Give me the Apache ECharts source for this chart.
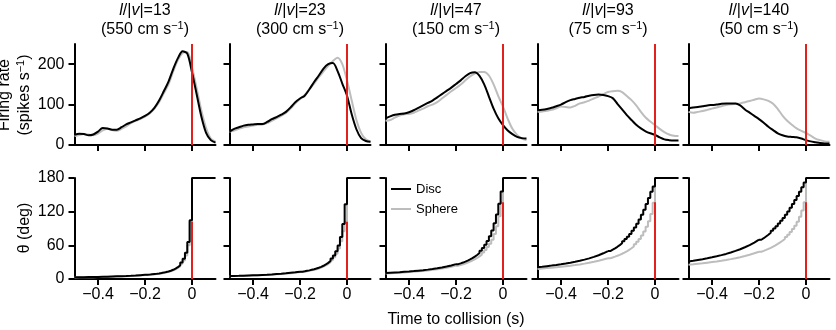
<!DOCTYPE html>
<html>
<head>
<meta charset="utf-8">
<script src="https://cdn.jsdelivr.net/npm/echarts@6/dist/echarts.min.js"></script>
<style>
html, body { margin: 0; padding: 0; background: #fff; }
#main { width: 836px; height: 330px; }
</style>
</head>
<body>
<div id="main"></div>
<script>
// panel labels
var lvRatio = [13, 23, 47, 93, 140];
var speeds = [550, 300, 150, 75, 50];

// tick labels
var xTicks = [-0.4, -0.2, 0];
var rateTicks = [0, 100, 200];
var thetaTicks = [0, 60, 120, 180];

// firing rate (spikes/s), sampled every 20 ms
var rateTime = [-0.5, -0.48, -0.46, -0.44, -0.42, -0.4, -0.38, -0.36, -0.34, -0.32, -0.3, -0.28, -0.26, -0.24, -0.22,
  -0.2, -0.18, -0.16, -0.14, -0.12, -0.1, -0.08, -0.06, -0.04, -0.02, 0, 0.02, 0.04, 0.06, 0.08, 0.1];

var discRate13 = [25, 28, 27, 24, 26, 33, 42, 41, 38, 38, 44, 51, 56, 61, 66, 72, 80, 92, 110, 133, 157, 188, 215, 232, 226, 180, 125, 70, 30, 12, 6];
var sphereRate13 = [22, 25, 27, 26, 24, 28, 36, 40, 37, 35, 40, 46, 54, 60, 64, 70, 78, 90, 106, 128, 150, 182, 210, 228, 230, 192, 140, 85, 42, 16, 8];
var discRate23 = [33, 40, 44, 48, 50, 51, 52, 52, 57, 64, 69, 75, 82, 93, 106, 115, 122, 138, 156, 172, 189, 200, 203, 183, 152, 122, 76, 39, 17, 10, 8];
var sphereRate23 = [33, 36, 40, 44, 46, 48, 50, 51, 54, 60, 66, 72, 79, 90, 103, 114, 124, 138, 152, 168, 182, 196, 208, 216, 200, 160, 110, 62, 30, 14, 8];
var discRate47 = [66, 71, 75, 77, 78, 81, 86, 92, 98, 104, 110, 118, 126, 134, 142, 151, 160, 170, 178, 180, 171, 150, 120, 90, 66, 49, 36, 27, 20, 17, 16];
var sphereRate47 = [60, 62, 68, 73, 76, 77, 80, 85, 90, 96, 100, 106, 115, 124, 133, 141, 150, 160, 170, 177, 181, 181, 172, 150, 121, 95, 65, 40, 25, 16, 12];
var discRate93 = [86, 87, 89, 92, 96, 100, 106, 111, 114, 117, 119, 122, 124, 125, 124, 121, 116, 102, 88, 74, 62, 50, 41, 34, 29, 25, 19, 14, 12, 11, 11];
var sphereRate93 = [82, 83, 85, 87, 91, 95, 94, 93, 97, 103, 106, 110, 115, 120, 126, 131, 133, 134, 131, 121, 111, 98, 82, 68, 58, 49, 40, 32, 26, 23, 22];
var discRate140 = [91, 93, 94, 96, 98, 99, 100, 102, 103, 103, 103, 98, 88, 80, 72, 64, 55, 45, 37, 29, 24, 21, 20, 19, 16, 12, 9, 7, 5, 4, 4];
var sphereRate140 = [82, 80, 82, 84, 87, 90, 93, 96, 99, 101, 102, 103, 106, 109, 112, 115, 113, 109, 102, 89, 73, 60, 50, 41, 35, 30, 23, 16, 12, 9, 8];

// angular size theta (deg); from -0.2 s on the stimulus is held between frames
var thetaTime = [-0.5, -0.48, -0.46, -0.44, -0.42, -0.4, -0.38, -0.36, -0.34, -0.32, -0.3, -0.28, -0.26, -0.24, -0.22,
  -0.2, -0.19, -0.18, -0.17, -0.16, -0.15, -0.14, -0.13, -0.12, -0.11, -0.1, -0.09, -0.08, -0.07, -0.06,
  -0.05, -0.04, -0.03, -0.02, -0.01, 0, 0.1];

var discTheta13 = [3.0, 3.1, 3.2, 3.4, 3.5, 3.7, 3.9, 4.1, 4.4, 4.7, 5.0, 5.3, 5.7, 6.2, 6.8,
  7.4, 7.8, 8.3, 8.8, 9.3, 9.9, 10.6, 11.4, 12.4, 13.5, 14.8, 16.4, 18.5, 21.0, 24.5,
  29.2, 36.1, 46.9, 66.1, 104.9, 180, 180];
var sphereTheta13 = [2.8, 2.9, 3.0, 3.2, 3.3, 3.5, 3.7, 3.9, 4.1, 4.4, 4.7, 5.0, 5.4, 5.8, 6.4,
  7.0, 7.4, 7.8, 8.2, 8.7, 9.3, 10.0, 10.7, 11.6, 12.7, 13.9, 15.4, 17.3, 19.7, 22.9,
  27, 33, 42, 60, 102, 180, 180];
var discTheta23 = [5.3, 5.5, 5.7, 6.0, 6.3, 6.6, 6.9, 7.3, 7.7, 8.2, 8.8, 9.4, 10.1, 11.0, 11.9,
  13.1, 13.8, 14.6, 15.4, 16.4, 17.4, 18.7, 20.1, 21.7, 23.6, 25.9, 28.7, 32.1, 36.4, 42.0,
  49.4, 59.9, 75.0, 98.0, 133.0, 180, 180];
var sphereTheta23 = [5.0, 5.2, 5.4, 5.7, 6.0, 6.3, 6.6, 7.0, 7.4, 7.8, 8.3, 8.9, 9.6, 10.4, 11.3,
  12.4, 13.0, 13.7, 14.5, 15.4, 16.4, 17.5, 18.8, 20.3, 22.1, 24.2, 26.7, 29.8, 33.6, 38.6,
  45.2, 54.5, 67.5, 85, 102, 180, 180];
var discTheta47 = [10.7, 11.2, 11.7, 12.2, 12.8, 13.4, 14.1, 14.9, 15.7, 16.7, 17.8, 19.1, 20.5, 22.2, 24.1,
  26.5, 27.8, 29.3, 30.9, 32.7, 34.8, 37.1, 39.8, 42.8, 46.3, 50.4, 55.2, 60.9, 67.8, 76.1,
  86.5, 99.2, 114.9, 133.9, 156.0, 180, 180];
var sphereTheta47 = [10.0, 10.4, 10.8, 11.3, 11.8, 12.4, 13.0, 13.7, 14.4, 15.3, 16.3, 17.4, 18.6, 20.1, 21.8,
  23.8, 25.0, 26.3, 27.7, 29.3, 31.0, 33.0, 35.2, 37.5, 40.3, 43.5, 47.3, 51.8, 57.0, 63.0,
  70.0, 80.0, 94.0, 112.0, 137.0, 180, 180];
var discTheta93 = [21.1, 21.9, 22.9, 23.9, 25.0, 26.2, 27.5, 29.0, 30.6, 32.4, 34.5, 36.8, 39.4, 42.4, 45.8,
  49.8, 52.2, 54.7, 57.4, 60.4, 63.6, 67.2, 71.1, 75.5, 80.4, 85.8, 91.9, 98.6, 106.1, 114.4,
  123.5, 133.5, 144.3, 155.7, 165.0, 180, 180];
var sphereTheta93 = [18.0, 18.7, 19.4, 20.1, 20.9, 21.7, 22.7, 23.7, 24.8, 26.0, 27.4, 28.9, 30.6, 32.4, 34.6,
  37.0, 38.4, 39.8, 41.4, 43.1, 45.0, 47.0, 49.3, 51.8, 54.8, 58.0, 62.0, 66.5, 71.5, 77.5,
  84.5, 93.0, 103.0, 116.0, 136.0, 180, 180];
var discTheta140 = [31.3, 32.5, 33.9, 35.3, 36.9, 38.6, 40.4, 42.5, 44.7, 47.3, 50.1, 53.1, 56.6, 60.5, 65.0,
  70.0, 72.7, 75.8, 78.9, 82.4, 86.0, 90.0, 94.2, 98.8, 103.7, 108.9, 114.6, 120.5, 126.9, 133.6,
  140.7, 148.1, 155.7, 163.7, 171.8, 180, 180];
var sphereTheta140 = [25.3, 26.1, 27.0, 27.9, 29.0, 30.1, 31.2, 32.5, 33.9, 35.4, 37.1, 38.9, 41.0, 43.2, 45.8,
  48.6, 50.2, 51.9, 53.7, 55.6, 57.7, 60.0, 62.5, 65.2, 68.1, 71.4, 75.0, 79.0, 83.6, 88.9,
  94.9, 102.1, 110.9, 122.1, 137.0, 180, 180];

// height of the red collision marker in the theta panels (deg)
var markerTheta = [102, 102, 137, 137, 137];

var discRate = [discRate13, discRate23, discRate47, discRate93, discRate140];
var sphereRate = [sphereRate13, sphereRate23, sphereRate47, sphereRate93, sphereRate140];
var discTheta = [discTheta13, discTheta23, discTheta47, discTheta93, discTheta140];
var sphereTheta = [sphereTheta13, sphereTheta23, sphereTheta47, sphereTheta93, sphereTheta140];

var FONT = 'Liberation Sans, Arial, Helvetica, sans-serif';
var BLACK = '#000';
var GREY = '#bdbdbd';
var RED = '#e3211c';

var panelLeft = [74.5, 229.5, 385.5, 537.5, 688.5];
var panelW = 141;
var rowTop = [44, 178];
var rowH = 101;
var stepFrom = 15; // index of -0.2 s in thetaTime

function pairs(xs, ys) {
  return xs.map(function (x, i) { return [x, ys[i]]; });
}
function minus(v) {
  return v === 0 ? '0' : String(v).replace('-', '\u2212');
}
function lineSeries(name, g, color, data, extra) {
  var s = {
    name: name, type: 'line', xAxisIndex: g, yAxisIndex: g, color: color,
    data: data, showSymbol: false, symbol: 'none',
    lineStyle: { width: 2, color: color }, z: name === 'Disc' ? 3 : 2
  };
  for (var k in extra) s[k] = extra[k];
  return s;
}

var myChart = echarts.init(document.getElementById('main'), null, { renderer: 'canvas' });

var grids = [], xAxes = [], yAxes = [], series = [], graphics = [];

for (var row = 0; row < 2; row++) {
  for (var p = 0; p < 5; p++) {
    var g = row * 5 + p;
    grids.push({ left: panelLeft[p], top: rowTop[row], width: panelW, height: rowH, outerBoundsMode: 'none', containLabel: false });
    xAxes.push({
      type: 'value', gridIndex: g, min: -0.5, max: 0.1,
      axisLine: { show: true, onZero: false, lineStyle: { color: BLACK, width: 2 } },
      axisTick: { show: true, inside: false, length: 6, customValues: xTicks, lineStyle: { color: BLACK, width: 2 } },
      axisLabel: { show: row === 1, customValues: xTicks, formatter: minus, color: BLACK, fontSize: 16, fontFamily: FONT, margin: 8 },
      splitLine: { show: false }
    });
    var ticks = row === 0 ? rateTicks : thetaTicks;
    yAxes.push({
      type: 'value', gridIndex: g, min: 0, max: row === 0 ? 250 : 180,
      axisLine: { show: true, onZero: false, lineStyle: { color: BLACK, width: 2 } },
      axisTick: { show: true, inside: false, length: 6, customValues: ticks, lineStyle: { color: BLACK, width: 2 } },
      axisLabel: { show: p === 0, customValues: ticks, color: BLACK, fontSize: 16, fontFamily: FONT, margin: 10 },
      splitLine: { show: false }
    });

    if (row === 0) {
      series.push(lineSeries('Sphere', g, GREY, pairs(rateTime, sphereRate[p]), { smooth: 0.3 }));
      series.push(lineSeries('Disc', g, BLACK, pairs(rateTime, discRate[p]), { smooth: 0.3 }));
      series.push(lineSeries('collision', g, RED, [[0, 0], [0, 250]], { z: 4, silent: true }));
    } else {
      var sph = pairs(thetaTime, sphereTheta[p]);
      var dsc = pairs(thetaTime, discTheta[p]);
      series.push(lineSeries('Sphere', g, GREY, sph.slice(0, stepFrom + 1), {}));
      series.push(lineSeries('Sphere', g, GREY, sph.slice(stepFrom), { step: 'end' }));
      series.push(lineSeries('Disc', g, BLACK, dsc.slice(0, stepFrom + 1), {}));
      series.push(lineSeries('Disc', g, BLACK, dsc.slice(stepFrom), { step: 'end' }));
      series.push(lineSeries('collision', g, RED, [[0, 0], [0, markerTheta[p]]], { z: 4, silent: true }));
    }
  }
}

// column titles
for (var c = 0; c < 5; c++) {
  graphics.push({
    type: 'text', x: panelLeft[c] + panelW / 2, y: 1,
    style: {
      text: '{i|l}/|{i|v}|=' + lvRatio[c] + '\n(' + speeds[c] + ' cm s{sup|\u22121})',
      font: '16px ' + FONT, fill: BLACK, align: 'center', verticalAlign: 'top', lineHeight: 19,
      rich: {
        i: { fontStyle: 'italic', fontSize: 16, fontFamily: FONT, lineHeight: 19 },
        sup: { fontSize: 11, fontFamily: FONT, verticalAlign: 'top', lineHeight: 13 }
      }
    }
  });
}

// axis names
graphics.push({
  type: 'text', x: 5, y: 95, rotation: Math.PI / 2,
  style: { text: 'Firing rate', font: '16px ' + FONT, fill: BLACK, align: 'center', verticalAlign: 'middle' }
});
graphics.push({
  type: 'text', x: 25, y: 95, rotation: Math.PI / 2,
  style: {
    text: '(spikes s{sup|\u22121})', font: '16px ' + FONT, fill: BLACK, align: 'center', verticalAlign: 'middle', lineHeight: 19,
    rich: { sup: { fontSize: 11, fontFamily: FONT, verticalAlign: 'top', lineHeight: 13 } }
  }
});
graphics.push({
  type: 'text', x: 25, y: 228, rotation: Math.PI / 2,
  style: { text: '\u03b8 (deg)', font: '16px ' + FONT, fill: BLACK, align: 'center', verticalAlign: 'middle' }
});
graphics.push({
  type: 'text', x: panelLeft[2] + panelW / 2, y: 320,
  style: { text: 'Time to collision (s)', font: '16px ' + FONT, fill: BLACK, align: 'center', verticalAlign: 'middle' }
});

var options = {
  backgroundColor: '#fff',
  animation: false,
  textStyle: { fontFamily: FONT },
  grid: grids,
  xAxis: xAxes,
  yAxis: yAxes,
  legend: {
    data: ['Disc', 'Sphere'], orient: 'vertical', left: 391, top: 182, padding: 0,
    icon: 'rect', itemWidth: 20, itemHeight: 2, itemGap: 6, selectedMode: false,
    textStyle: { color: BLACK, fontSize: 13, fontFamily: FONT, lineHeight: 14 }
  },
  graphic: graphics,
  series: series
};
myChart.setOption(options);
</script>
</body>
</html>
